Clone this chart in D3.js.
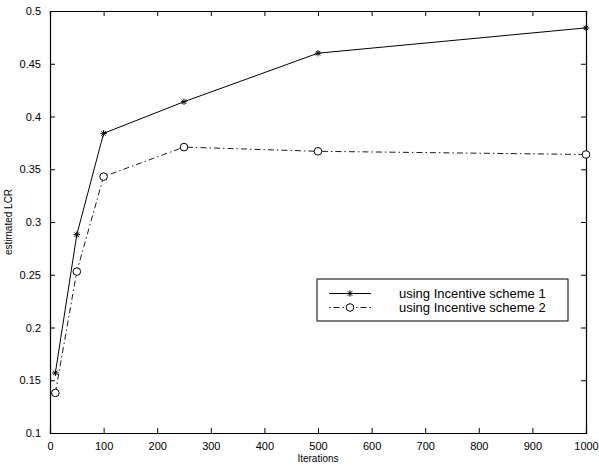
<!DOCTYPE html>
<html>
<head>
<meta charset="utf-8">
<script src="https://cdn.jsdelivr.net/npm/d3@7"></script>
<style>
  body { margin: 0; background: #fff; }
  text { font-family: "Liberation Sans", Arial, sans-serif; fill: #000; }
</style>
</head>
<body>
<svg width="599" height="466"></svg>
<script>
// Data
const iterations = [10, 50, 100, 250, 500, 1000];
const scheme1 = [0.157, 0.288, 0.384, 0.414, 0.460, 0.484];
const scheme2 = [0.138, 0.253, 0.343, 0.371, 0.367, 0.364];
const seriesNames = ["using Incentive scheme 1", "using Incentive scheme 2"];
const xTicks = [0, 100, 200, 300, 400, 500, 600, 700, 800, 900, 1000];
const yTicks = [0.1, 0.15, 0.2, 0.25, 0.3, 0.35, 0.4, 0.45, 0.5];

const svg = d3.select("svg");
const margin = { left: 50, right: 13, top: 11, bottom: 33 };
const width = 599 - margin.left - margin.right;
const height = 466 - margin.top - margin.bottom;

const x = d3.scaleLinear().domain([0, 1000]).range([0, width]);
const y = d3.scaleLinear().domain([0.1, 0.5]).range([height, 0]);

const g = svg.append("g").attr("transform", `translate(${margin.left},${margin.top})`);

// Axes with inward ticks on all four sides
const fmt = d => String(+d.toFixed(2));
g.append("g").attr("transform", `translate(0,${height})`)
    .call(d3.axisBottom(x).tickValues(xTicks).tickSize(-5).tickPadding(9).tickFormat(d3.format("d")))
    .call(a => a.selectAll("text").attr("font-size", 11));
g.append("g")
    .call(d3.axisLeft(y).tickValues(yTicks).tickSize(-5).tickPadding(9).tickFormat(fmt))
    .call(a => a.selectAll("text").attr("font-size", 11));
g.append("g")
    .call(d3.axisTop(x).tickValues(xTicks).tickSize(-5).tickFormat(""));
g.append("g").attr("transform", `translate(${width},0)`)
    .call(d3.axisRight(y).tickValues(yTicks).tickSize(-5).tickFormat(""));
g.selectAll(".domain").attr("stroke", "#000").attr("stroke-width", 1.2);
g.selectAll(".tick line").attr("stroke", "#000");

// Lines
const line = d3.line().x(d => x(d[0])).y(d => y(d[1]));
const data1 = iterations.map((it, i) => [it, scheme1[i]]);
const data2 = iterations.map((it, i) => [it, scheme2[i]]);

g.append("path").datum(data1).attr("d", line)
    .attr("fill", "none").attr("stroke", "#000").attr("stroke-width", 1);
g.append("path").datum(data2).attr("d", line)
    .attr("fill", "none").attr("stroke", "#000").attr("stroke-width", 0.9)
    .attr("stroke-dasharray", "6,3,1.5,3");

// Markers
function star(sel, cx, cy) {
  const r = 3.2;
  const s = sel.append("g").attr("transform", `translate(${cx},${cy})`)
      .attr("stroke", "#000").attr("stroke-width", 1);
  [0, 45, 90, 135].forEach(a => {
    const rad = a * Math.PI / 180;
    s.append("line")
        .attr("x1", -r * Math.cos(rad)).attr("y1", -r * Math.sin(rad))
        .attr("x2", r * Math.cos(rad)).attr("y2", r * Math.sin(rad));
  });
}
function circ(sel, cx, cy) {
  sel.append("circle").attr("cx", cx).attr("cy", cy).attr("r", 3.8)
      .attr("fill", "#fff").attr("stroke", "#000").attr("stroke-width", 1);
}
data1.forEach(d => star(g, x(d[0]), y(d[1])));
data2.forEach(d => circ(g, x(d[0]), y(d[1])));

// Legend
const lg = svg.append("g").attr("transform", "translate(317,279)");
lg.append("rect").attr("width", 251).attr("height", 42)
    .attr("fill", "#fff").attr("stroke", "#000").attr("stroke-width", 1);
const rows = [14.5, 28.5];
lg.append("line").attr("x1", 12).attr("x2", 54).attr("y1", rows[0]).attr("y2", rows[0])
    .attr("stroke", "#000");
star(lg, 33, rows[0]);
lg.append("line").attr("x1", 12).attr("x2", 54).attr("y1", rows[1]).attr("y2", rows[1])
    .attr("stroke", "#000").attr("stroke-width", 0.9).attr("stroke-dasharray", "1.5,3,6,3");
circ(lg, 33, rows[1]);
seriesNames.forEach((n, i) => {
  lg.append("text").attr("x", 82).attr("y", rows[i] + 4.5)
      .attr("font-size", 13).text(n);
});

// Axis titles
svg.append("text").attr("x", margin.left + width / 2).attr("y", 462)
    .attr("text-anchor", "middle").attr("font-size", 10).text("Iterations");
svg.append("text").attr("transform", `translate(12,${margin.top + height / 2}) rotate(-90)`)
    .attr("text-anchor", "middle").attr("font-size", 10).text("estimated LCR");
</script>
</body>
</html>
